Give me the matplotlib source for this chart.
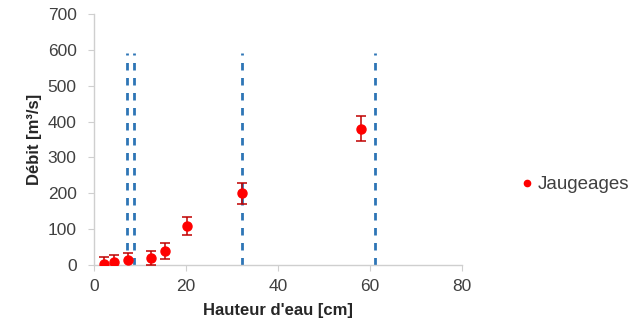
import matplotlib
matplotlib.use("Agg")
import matplotlib.pyplot as plt

plt.rcParams['font.family'] = ['Liberation Sans', 'DejaVu Sans']

hauteur = [2.2, 4.3, 7.4, 12.4, 15.4, 20.2, 32.2, 58.0]
debit = [2, 8, 14, 20, 39, 109, 200, 380]
erreur = [19, 20, 20, 20, 22, 25, 30, 35]
lignes_x = [7.2, 8.7, 32.2, 61.1]
ligne_haut = 590
xticks = [0, 20, 40, 60, 80]
yticks = [0, 100, 200, 300, 400, 500, 600, 700]

fig = plt.figure(figsize=(6.41, 3.26), dpi=100)
ax = fig.add_axes([94/641, 1-265/326, (462-94)/641, (265-14)/326])

for xv in lignes_x:
    ax.plot([xv, xv], [0, ligne_haut], linestyle=(0, (2.7, 2.7)), color='#2E75B6', linewidth=2, zorder=2)

ax.errorbar(hauteur, debit, yerr=erreur, fmt='o', color='#FF0000', ecolor='#C00000',
            markersize=6.5, elinewidth=1.1, capsize=3.6, capthick=1.1, zorder=3)

ax.set_xlim(0, 80)
ax.set_ylim(0, 700)
ax.set_xticks(xticks)
ax.set_yticks(yticks)
for s in ['top', 'right']:
    ax.spines[s].set_visible(False)
for s in ['left', 'bottom']:
    ax.spines[s].set_color('#CFCFCF')
    ax.spines[s].set_linewidth(1)
ax.tick_params(axis='both', colors='#CFCFCF', labelcolor='#404040', labelsize=12.5, length=4)
ax.tick_params(axis='y', pad=8.5)
ax.tick_params(axis='x', pad=6)
ax.set_xlabel("Hauteur d'eau [cm]", fontsize=12, fontweight='bold', color='#262626')
ax.set_ylabel("Débit [m³/s]", fontsize=12, fontweight='bold', color='#262626')
ax.xaxis.set_label_coords(0.5, -0.151)
ax.yaxis.set_label_coords(-0.141, 0.5)

ax.legend(handles=[plt.Line2D([], [], marker='o', linestyle='none', color='#FF0000', markersize=4.5)],
          labels=['Jaugeages'], loc='center left', bbox_to_anchor=(1.163, 0.319), frameon=False,
          fontsize=13.5, handlelength=0.5, handletextpad=0.35, borderpad=0, borderaxespad=0,
          labelcolor='#404040')

fig.savefig('out.png', dpi=100)
